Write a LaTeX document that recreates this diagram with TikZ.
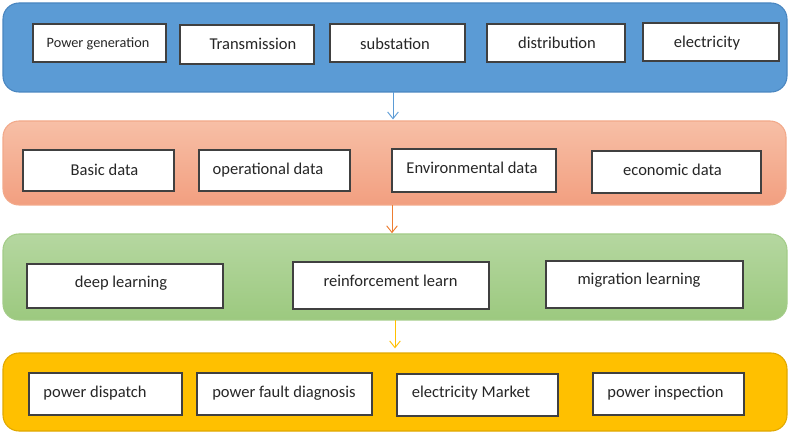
\documentclass[tikz,border=0pt]{standalone}
\usepackage{fontspec}
\setmainfont{Carlito}
\usetikzlibrary{arrows.meta}
\definecolor{bluefill}{HTML}{5B9BD5}
\definecolor{blueedge}{HTML}{4A86C0}
\definecolor{orgtop}{HTML}{F7BFA6}
\definecolor{orgbot}{HTML}{F29F80}
\definecolor{orgedge}{HTML}{F2A98A}
\definecolor{orgarrow}{HTML}{ED7D31}
\definecolor{grntop}{HTML}{B5D7A0}
\definecolor{grnbot}{HTML}{9CC97F}
\definecolor{grnedge}{HTML}{A3CC88}
\definecolor{yelfill}{HTML}{FFC000}
\definecolor{yeledge}{HTML}{E0A800}
\definecolor{boxedge}{HTML}{404040}
\definecolor{txtcol}{HTML}{262626}
\tikzset{
  band/.style={rounded corners=12pt, line width=0.8pt, inner sep=0pt, outer sep=0pt},
  boxst/.style={draw=boxedge, fill=white, line width=0.9pt, inner sep=0pt, outer sep=0pt},
  txt/.style={font=\fontsize{12.4}{14}\selectfont, text=txtcol, inner sep=0pt},
  smalltxt/.style={font=\fontsize{10.7}{12}\selectfont, text=txtcol, inner sep=0pt},
  arr/.style={line width=0.7pt, -{Straight Barb[length=5pt,width=8pt]}},
}
\newcommand\bandnode[6]{% name, x1,y1,x2,y2, style
  \node[band, #6, minimum width={(#4-#2)*0.75pt}, minimum height={(#5-#3)*0.75pt}] (#1) at ({(#2+#4)/2},{(#3+#5)/2}) {};}
\newcommand\bx[9]{% name, x1,y1,x2,y2, tx,ty, text style, text
  \node[boxst, minimum width={(#4-#2)*0.75pt}, minimum height={(#5-#3)*0.75pt}] (#1) at ({(#2+#4)/2},{(#3+#5)/2}) {};
  \node[#8] (#1t) at (#6,#7) {#9};}
\begin{document}
\begin{tikzpicture}[x=0.75pt,y=-0.75pt]
\useasboundingbox (0,0) rectangle (788,434);
% bands
\bandnode{L1}{3}{3}{787}{92}{fill=bluefill, draw=blueedge}
\bandnode{L2}{3}{121}{786}{205}{top color=orgtop, bottom color=orgbot, draw=orgedge}
\bandnode{L3}{3}{234}{787}{320}{top color=grntop, bottom color=grnbot, draw=grnedge}
\bandnode{L4}{3}{353}{787}{431}{fill=yelfill, draw=yeledge}
% layer 1
\bx{a1}{33}{24}{166}{62}{98}{44}{smalltxt}{Power generation}
\bx{a2}{180}{25}{314}{64}{253}{44}{txt}{Transmission}
\bx{a3}{330}{24}{465}{62}{395}{44}{txt}{substation}
\bx{a4}{487}{24}{625}{62}{557}{43}{txt}{distribution}
\bx{a5}{643}{23}{779}{61}{707}{43}{txt}{electricity}
% layer 2
\bx{b1}{23}{150}{174}{191}{104.5}{170}{txt}{Basic data}
\bx{b2}{199}{150}{350}{191}{268}{170}{txt}{operational data}
\bx{b3}{392}{149}{556}{192}{472}{168}{txt}{Environmental data}
\bx{b4}{592}{151}{761}{193}{672.5}{170}{txt}{economic data}
% layer 3
\bx{c1}{27}{264}{223}{308}{121}{283}{txt}{deep learning}
\bx{c2}{293}{262}{489}{309}{390.5}{281}{txt}{reinforcement learn}
\bx{c3}{546}{261}{743}{308}{639}{280}{txt}{migration learning}
% layer 4
\bx{d1}{29}{373}{182}{415}{95}{393}{txt}{power dispatch}
\bx{d2}{197}{373}{372}{415}{284}{393}{txt}{power fault diagnosis}
\bx{d3}{397}{374}{558}{416}{471}{393}{txt}{electricity Market}
\bx{d4}{593}{373}{744}{415}{665.5}{393}{txt}{power inspection}
% arrows
\coordinate (x1) at (393,0);
\coordinate (x2) at (392,0);
\coordinate (x3) at (395,0);
\draw[arr, draw=bluefill] (x1 |- L1.south) -- ([yshift=1.2pt]x1 |- L2.north);
\draw[arr, draw=orgarrow] (x2 |- L2.south) -- ([yshift=0.6pt]x2 |- L3.north);
\draw[arr, draw=yelfill] (x3 |- L3.south) -- ([yshift=3.5pt]x3 |- L4.north);
\end{tikzpicture}
\end{document}
